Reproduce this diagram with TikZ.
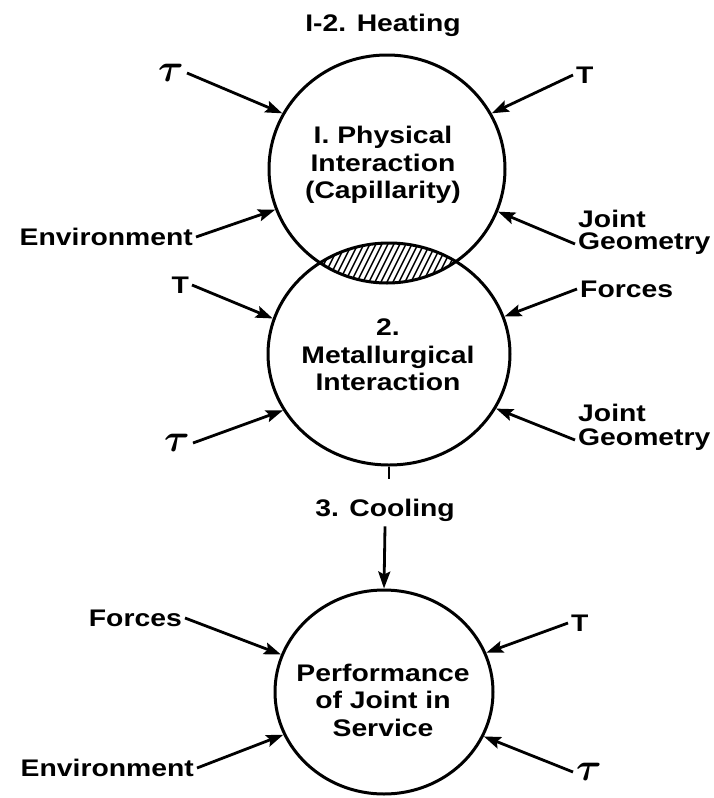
\documentclass[tikz,border=0pt]{standalone}
\usepackage{fontspec}
\setmainfont{Liberation Sans}[FakeStretch=1.18]
\usetikzlibrary{arrows.meta,shapes.geometric}
\newcommand{\tausym}{\scalebox{3.9}{\boldmath$\tau$}}
\tikzset{
  lab/.style={inner sep=3pt, font=\fontsize{24}{28}\selectfont\bfseries},
  taulab/.style={inner sep=3pt},
  ctext/.style={align=center, inner sep=0pt, font=\fontsize{24}{27.5}\selectfont\bfseries},
  blob/.style={draw, shape=ellipse, inner sep=0pt, line width=3pt},
  arr/.style={line width=2.8pt, -{Stealth[length=17pt,width=12pt,inset=3pt]}},
  hatch/.style={line width=1.4pt}
}
\begin{document}
\begin{tikzpicture}[x=1pt,y=-1pt]
\useasboundingbox (0,0) rectangle (714,798);
% circles
\node[blob, minimum width=236pt, minimum height=228pt] (c1) at (387,169) {};
\node[blob, minimum width=242pt, minimum height=222pt] (c2) at (389,354) {};
\node[blob, minimum width=218pt, minimum height=204pt] (c3) at (384,692) {};
% hatched overlap
\begin{scope}
  \clip (c1.center) ellipse [x radius=118pt, y radius=114pt];
  \clip (c2.center) ellipse [x radius=121pt, y radius=111pt];
  \foreach \x in {270,276,...,480} \draw[hatch] (\x,300) -- ++(35,-70);
\end{scope}
% texts in circles
\node[ctext] (t1) at (383,165) {I. Physical\\Interaction\\(Capillarity)};
\node[ctext] (t2) at (388,355) {2.\\Metallurgical\\Interaction};
\node[ctext] (t3) at (383,700) {Performance\\of Joint in\\Service};
% headings
\node[lab] (heat) at (383,25) {I-2. Heating};
\node[lab, inner sep=5pt] (cool) at (385,510) {3. Cooling};
\coordinate (tick) at ([yshift=-12pt]c2.south);
\draw[line width=2.8pt] (c2.south) -- (tick);
\draw[arr] (cool.south) -- (c3.north);
% circle 1 inputs
\node[taulab, anchor=east] (tau1) at (187,73) {\tausym};
\node[lab, anchor=east] (env1) at (196,237) {Environment};
\node[lab, anchor=west] (T1) at (573,75) {T};
\node[lab, anchor=west] (jo1) at (575,219) {Joint};
\node[lab, anchor=west] (ge1) at (575,244) {Geometry};
\draw[arr] (tau1.east) -- (c1.152);
\draw[arr] (env1.east) -- (c1.200);
\draw[arr] (T1.west) -- (c1.28);
\draw[arr] (ge1.west) -- (c1.-21);
% circle 2 inputs
\node[lab, anchor=east] (T2) at (192,285) {T};
\node[taulab, anchor=east] (tau2) at (193,443) {\tausym};
\node[lab, anchor=west] (F2) at (577,289) {Forces};
\node[lab, anchor=west] (jo2) at (575,413) {Joint};
\node[lab, anchor=west] (ge2) at (575,440) {Geometry};
\draw[arr] (T2.east) -- (c2.163);
\draw[arr] (tau2.east) -- (c2.208);
\draw[arr] (F2.west) -- (c2.18);
\draw[arr] (ge2.west) -- (c2.-27);
% circle 3 inputs
\node[lab, anchor=east] (F3) at (185,618) {Forces};
\node[lab, anchor=east] (env3) at (197,768) {Environment};
\node[lab, anchor=west] (T3) at (568,623) {T};
\node[taulab, anchor=west] (tau3) at (573,772) {\tausym};
\draw[arr] (F3.east) -- (c3.160);
\draw[arr] (env3.east) -- (c3.203);
\draw[arr] (T3.west) -- (c3.21);
\draw[arr] (tau3.west) -- (c3.-24);
\end{tikzpicture}
\end{document}
